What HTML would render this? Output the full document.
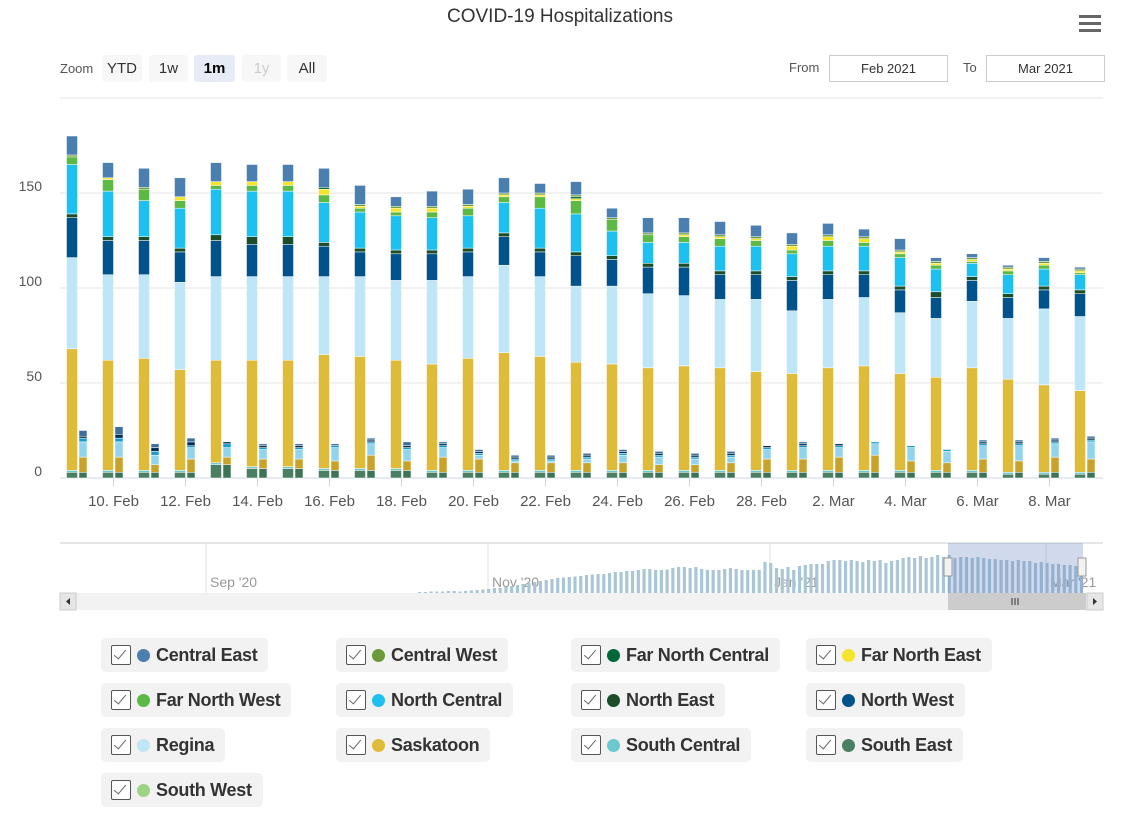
<!DOCTYPE html>
<html><head><meta charset="utf-8">
<style>
body{margin:0;width:1134px;height:828px;background:#fff;font-family:"Liberation Sans",sans-serif;position:relative;overflow:hidden;color:#333}
.btn{position:absolute;top:55px;height:27px;line-height:27px;font-size:15px;text-align:center;background:#f7f7f7;border-radius:3px}
.inp{position:absolute;top:55px;height:25px;border:1px solid #ccc;font-size:13px;text-align:center;line-height:25px}
.lg{position:absolute;height:34px;background:#f2f2f2;border-radius:5px;font-size:18px;font-weight:bold;line-height:34px;color:#333;white-space:nowrap}
.lg .cb{position:absolute;left:10px;top:7px;width:18px;height:18px;border:1.5px solid #555;border-radius:2px;background:#fff}
.lg .cb:after{content:"";position:absolute;left:5px;top:1px;width:5px;height:11px;border:solid #666;border-width:0 1.5px 1.5px 0;transform:rotate(40deg)}
.lg .dot{position:absolute;left:36px;top:11px;width:13px;height:13px;border-radius:50%}
.lg .t{position:absolute;left:55px;letter-spacing:-0.3px}
</style></head><body>
<div style="position:absolute;left:0;width:1120px;top:6px;text-align:center;font-size:19px;color:#333">COVID-19 Hospitalizations</div>
<div style="position:absolute;left:1079px;top:15px;width:22px;height:18px">
<div style="height:3px;background:#666;margin-bottom:4px"></div><div style="height:3px;background:#666;margin-bottom:4px"></div><div style="height:3px;background:#666"></div></div>
<div style="position:absolute;left:60px;top:61px;font-size:13px;color:#555">Zoom</div>
<div class="btn" style="left:102px;width:40px">YTD</div>
<div class="btn" style="left:149px;width:39px">1w</div>
<div class="btn" style="left:194px;width:41px;background:#e6ebf5;font-weight:bold;color:#000">1m</div>
<div class="btn" style="left:242px;width:39px;color:#ccc">1y</div>
<div class="btn" style="left:287px;width:40px">All</div>
<div style="position:absolute;left:789px;top:60px;font-size:13px;color:#555">From</div>
<div class="inp" style="left:829px;width:117px">Feb 2021</div>
<div style="position:absolute;left:963px;top:60px;font-size:13px;color:#555">To</div>
<div class="inp" style="left:986px;width:117px">Mar 2021</div>
<svg id="chart" width="1134" height="620" style="position:absolute;left:0;top:0"></svg>
<div id="legend"></div>
<script>
const categories=["9. Feb","10. Feb","11. Feb","12. Feb","13. Feb","14. Feb","15. Feb","16. Feb","17. Feb","18. Feb","19. Feb","20. Feb","21. Feb","22. Feb","23. Feb","24. Feb","25. Feb","26. Feb","27. Feb","28. Feb","1. Mar","2. Mar","3. Mar","4. Mar","5. Mar","6. Mar","7. Mar","8. Mar","9. Mar"];
const southEast=[3,3,3,3,7,5,5,4,4,4,3,3,3,3,3,3,3,3,3,3,3,3,3,3,3,3,2,2,2];
const southCentral=[1,1,1,1,1,1,1,1,1,1,1,1,1,1,1,1,1,1,1,1,1,1,1,1,1,1,1,1,1];
const saskatoon=[64,58,59,53,54,56,56,60,59,57,56,59,62,60,57,56,54,55,54,52,51,54,55,51,49,54,49,46,43];
const regina=[48,45,44,46,44,44,44,41,42,42,44,43,46,42,40,41,39,37,36,38,33,36,36,32,31,35,32,40,39];
const northWest=[21,18,18,16,19,17,17,16,13,14,14,13,15,13,16,14,14,15,13,13,16,13,12,12,11,11,11,10,12];
const northEast=[2,2,2,2,3,4,4,2,2,2,2,2,2,2,2,2,2,2,2,2,2,2,2,2,3,2,2,2,2];
const northCentral=[26,24,19,21,24,24,24,21,19,18,17,17,16,21,20,13,11,11,13,13,12,13,13,15,12,7,10,9,8];
const farNorthWest=[4,6,6,4,2,3,3,4,2,2,3,4,3,6,7,6,4,3,4,3,2,3,2,2,2,1,2,2,1];
const farNorthEast=[0,1,0,2,2,2,2,3,1,2,2,1,1,1,1,0,0,1,1,1,2,2,2,1,1,1,1,1,1];
const farNorthCentral=[0,0,0,0,0,0,0,1,0,0,0,0,0,0,1,0,0,0,0,0,0,0,0,0,0,0,0,0,0];
const centralWest=[1,0,1,0,0,0,0,0,1,1,1,1,1,1,1,1,1,1,1,1,1,1,1,1,1,1,1,1,1];
const centralEast=[10,8,10,10,10,9,9,10,10,5,8,8,8,5,7,5,8,8,7,6,6,6,4,6,2,2,1,2,1];
const icuSouthEast=[3,3,3,3,7,5,5,4,4,4,3,3,3,3,3,3,3,3,3,3,3,3,3,3,3,3,3,3,3];
const icuSaskatoon=[8,8,4,7,4,5,5,5,8,5,8,7,5,5,5,5,4,4,5,7,7,8,9,6,5,7,6,8,7];
const icuRegina=[8,8,5,6,5,5,5,7,6,6,5,2,1,1,2,4,4,3,3,5,6,5,6,7,6,7,8,7,9];
const icuNorthCentral=[2,2,2,1,2,1,1,1,1,1,1,1,1,1,1,1,1,1,1,1,1,1,1,1,1,1,1,1,1];
const icuNorthWest=[1,2,2,2,1,1,1,0,1,1,1,1,1,1,1,1,1,1,1,1,1,1,0,0,0,1,1,1,1];
const icuCentralEast=[3,4,2,2,0,1,1,1,1,2,1,1,1,1,1,1,1,1,1,0,1,0,0,0,0,1,1,1,1];
const yTicks=[0,50,100,150];
const navValues=[2,2,3,3,3,4,4,3,4,5,6,7,8,10,10,12,14,16,18,20,22,24,26,28,30,31,32,33,34,36,37,38,38,40,42,42,44,44,46,48,48,46,46,47,50,52,52,50,52,48,46,46,46,48,50,48,46,46,46,46,62,60,50,48,52,46,54,56,58,58,58,64,66,66,64,66,64,62,66,64,66,60,64,66,70,72,70,74,70,72,76,72,76,70,72,72,70,72,70,68,68,66,66,64,66,64,64,60,62,60,58,58,56,56,54,52];
const navLabels=["Sep '20","Nov '20","Jan '21","Mar '21"];

const svg=document.getElementById('chart');const NS='http://www.w3.org/2000/svg';
function el(t,a,p){const e=document.createElementNS(NS,t);for(const k in a)e.setAttribute(k,a[k]);(p||svg).appendChild(e);return e;}
const X0=72,DX=36,Y0=478,PX=1.9;
function xTall(i){return X0+i*DX;}
function yv(v){return Y0-v*PX;}
for(const t of yTicks.concat([200])){const g=el('line',{x1:60,x2:1103,y1:yv(t),y2:yv(t),stroke:t==0?'#ccd6eb':'#e6e6e6','stroke-width':1});

}
for(const t of yTicks){const tx=el('text',{x:42,y:yv(t)-2,'text-anchor':'end','font-size':14,fill:'#555'});tx.textContent=t;

}
const tallSeries=[[southEast,'#4a7f62'],[southCentral,'#6cc7cf'],[saskatoon,'#dfbb3c'],[regina,'#bfe6f7'],[northWest,'#00538a'],[northEast,'#1b4d2b'],[northCentral,'#1ec0f0'],[farNorthWest,'#5cb946'],[farNorthEast,'#f5e52a'],[farNorthCentral,'#006837'],[centralWest,'#6a9a3a'],[centralEast,'#4a7fb0']];
const smallSeries=[[icuSouthEast,'#3f7356'],[icuSaskatoon,'#c9a22a'],[icuRegina,'#92d3ee'],[icuNorthCentral,'#1a9ccf'],[icuNorthWest,'#002f55'],[icuCentralEast,'#3f6e9c']];
function stack(series,xf,w,name){categories.forEach((c,i)=>{let acc=0;series.forEach(([arr,col])=>{const v=arr[i];if(v>0){const r=el('rect',{x:xf(i)-w/2,y:yv(acc+v),width:w,height:v*PX,fill:col,stroke:'#fff','stroke-width':0.5});

}acc+=v;});});}
stack(tallSeries,xTall,11,'hospital-bar-segment');
stack(smallSeries,i=>xTall(i)+11,8,'icu-bar-segment');
categories.forEach((c,i)=>{if(i%2==1){const cx=xTall(i)+5.5;el('line',{x1:cx,x2:cx,y1:Y0,y2:Y0+8,stroke:'#ccd6eb'});const tx=el('text',{x:cx,y:506,'text-anchor':'middle','font-size':15,fill:'#555'});tx.textContent=c;

}});
el('line',{x1:60,x2:1103,y1:543,y2:543,stroke:'#ccc'});
[206,488,770,1046].forEach((x,k)=>{el('line',{x1:x,x2:x,y1:543,y2:593,stroke:'#e0e0e0'});const tx=el('text',{x:x+4,y:587,'font-size':14,fill:'#999'});tx.textContent=navLabels[k];

});
const nx0=418,ndx=(1080-nx0)/(navValues.length-1);
navValues.forEach((v,i)=>{if(v>0){const b=el('rect',{x:nx0+i*ndx,y:593-v*0.5,width:ndx*0.55,height:v*0.5,fill:'#a8c6d6'});

}});
const m=el('rect',{x:948,y:543,width:135,height:50,fill:'rgba(102,133,194,0.3)'});


[948,1082].forEach(x=>{const h=el('rect',{x:x-4,y:558,width:8,height:18,fill:'#f2f2f2',stroke:'#999'});

});
const sb=el('rect',{x:60,y:593,width:1043,height:17,fill:'#f2f2f2'});


const th=el('rect',{x:948,y:593,width:138,height:17,fill:'#cccccc'});


el('rect',{x:60,y:593,width:16,height:17,fill:'#e6e6e6',stroke:'#ccc'});el('rect',{x:1087,y:593,width:16,height:17,fill:'#e6e6e6',stroke:'#ccc'});
el('path',{d:'M70 598 L66 601.5 L70 605 Z',fill:'#333'});el('path',{d:'M1093 598 L1097 601.5 L1093 605 Z',fill:'#333'});
el('path',{d:'M1012 598v7M1015 598v7M1018 598v7',stroke:'#333'});
const legNames=["Central East","Central West","Far North Central","Far North East","Far North West","North Central","North East","North West","Regina","Saskatoon","South Central","South East","South West"];
const legColors=['#4a7fb0','#6a9a3a','#006837','#f5e52a','#5cb946','#1ec0f0','#1b4d2b','#00538a','#bfe6f7','#dfbb3c','#6cc7cf','#4a7f62','#9ed384'];
const lg=document.getElementById('legend');
legNames.forEach((n,i)=>{const d=document.createElement('div');d.className='lg';d.style.left=(101+(i%4)*235)+'px';d.style.top=(638+Math.floor(i/4)*45)+'px';
d.innerHTML='<span class="cb"></span><span class="dot" style="background:'+legColors[i]+'"></span><span class="t">'+n+'</span>';


lg.appendChild(d);d.style.width=(d.querySelector('.t').offsetWidth+66)+'px';});
</script>
</body></html>
